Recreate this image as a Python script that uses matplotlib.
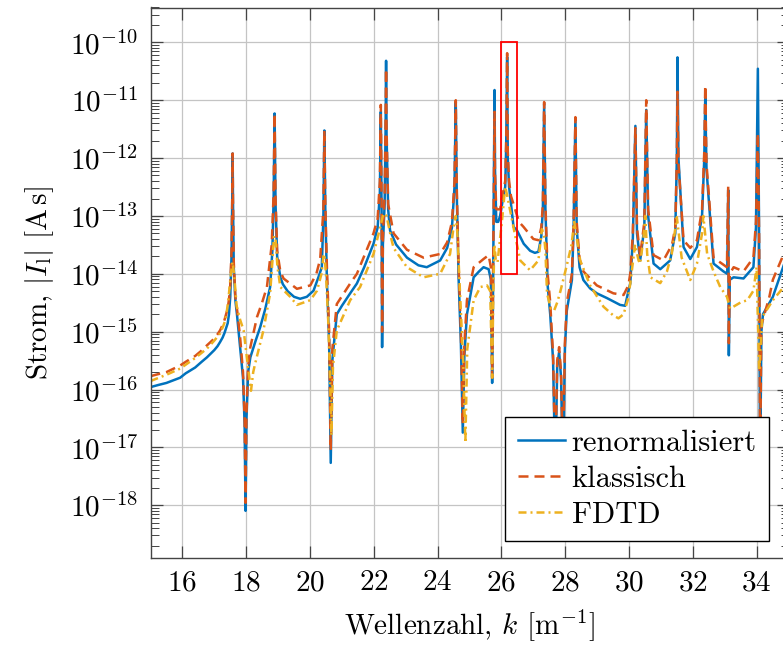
import numpy as np
import matplotlib
matplotlib.use('Agg')
import matplotlib.pyplot as plt
from matplotlib.patches import Rectangle
from matplotlib.ticker import LogLocator, NullFormatter

plt.rcParams['font.family'] = 'serif'
plt.rcParams['font.serif'] = ['cmr10']
plt.rcParams['mathtext.fontset'] = 'cm'
plt.rcParams['axes.formatter.use_mathtext'] = True
plt.rcParams['axes.unicode_minus'] = False
plt.rcParams['font.size'] = 21

# renormalisiert (blue)
k_renorm = [15.0, 15.25, 15.5, 15.93, 16.1, 16.4, 16.6, 16.77, 17.0, 17.1, 17.18, 17.26, 17.32, 17.37, 17.42,
            17.46, 17.5, 17.54, 17.565, 17.575, 17.585,
            17.61, 17.66, 17.71, 17.81, 17.9, 17.95, 17.98, 18.01, 18.06, 18.13, 18.3, 18.44, 18.6, 18.75,
            18.82, 18.86, 18.89, 18.92, 18.97, 19.07, 19.15, 19.3, 19.5, 19.69, 19.9, 20.11, 20.27, 20.37,
            20.42, 20.45,
            20.48, 20.53, 20.6, 20.65, 20.7, 20.84, 21.0, 21.26, 21.47, 21.7, 21.99, 22.12, 22.19, 22.22,
            22.245, 22.26, 22.285, 22.34, 22.37, 22.385, 22.40, 22.45, 22.51, 22.7, 23.04, 23.4, 23.66, 24.08,
            24.3, 24.45, 24.53, 24.57, 24.6, 24.66, 24.73, 24.79, 24.84, 24.92, 25.0, 25.13, 25.3, 25.44,
            25.6, 25.67, 25.71, 25.74, 25.77, 25.785, 25.80, 25.84, 25.9, 25.96, 26.05, 26.12, 26.15, 26.18,
            26.2, 26.24, 26.3, 26.38, 26.49, 26.7, 26.9, 27.05, 27.16, 27.25, 27.3, 27.34, 27.38, 27.45,
            27.53, 27.62, 27.69, 27.75, 27.81,
            27.87, 27.93, 27.99, 28.05, 28.15, 28.21, 28.26, 28.32, 28.36, 28.45, 28.57, 28.78, 28.99, 29.31,
            29.72, 29.88, 29.98, 30.04, 30.12, 30.2, 30.25, 30.35, 30.48, 30.54, 30.6, 30.77, 30.98, 31.29,
            31.45, 31.5, 31.52, 31.55, 31.71, 31.92, 32.13, 32.29, 32.36, 32.39, 32.43, 32.65, 32.96, 33.08,
            33.11, 33.13, 33.16, 33.28, 33.59, 33.9, 33.98, 34.04, 34.08, 34.11, 34.15, 34.2, 34.51, 34.85]
I_renorm = [1.1e-16, 1.2e-16, 1.3e-16, 1.6e-16, 1.9e-16, 2.4e-16, 3.0e-16, 3.6e-16, 4.8e-16, 5.6e-16, 6.6e-16,
            7.9e-16, 9.5e-16, 1.15e-15, 1.4e-15, 2.0e-15, 4.0e-15, 2.0e-14,
            2.5e-13, 1.2e-12, 2.0e-13, 1.3e-14, 3.5e-15, 2.0e-15, 5.4e-16, 1.6e-16, 2.5e-17, 8.0e-19, 3.2e-17,
            2.0e-16, 3.6e-16, 7.1e-16, 1.2e-15, 2.5e-15, 5.9e-15, 2.5e-14, 2.0e-13, 5.9e-12, 1.6e-13, 2.0e-14,
            8.7e-15, 6.6e-15, 5.0e-15, 4.0e-15, 3.7e-15, 4.0e-15, 5.1e-15, 8.9e-15, 1.3e-14, 1.0e-13, 3.0e-12,
            1.3e-13, 7.8e-15,
            6.3e-16, 5.4e-18, 3.2e-16, 2.0e-15, 2.8e-15, 4.6e-15, 6.8e-15, 1.3e-14, 3.3e-14, 6.3e-14, 2.5e-13,
            6.3e-12, 1.0e-13, 5.4e-16, 3.2e-14, 1.6e-13, 3.2e-12, 4.8e-11, 2.5e-12, 1.3e-13, 5.6e-14, 3.2e-14,
            1.9e-14, 1.4e-14, 1.3e-14, 1.7e-14, 2.8e-14, 6.3e-14, 3.2e-13, 9.3e-12, 2.5e-13, 7.9e-15, 6.3e-16,
            1.8e-17, 4.0e-16, 2.0e-15, 3.5e-15, 8.7e-15, 1.1e-14, 1.3e-14, 1.2e-14, 7.9e-15, 1.3e-16, 6.3e-15,
            1.6e-12, 1.5e-11, 6.3e-13, 7.9e-14, 7.9e-14, 1.0e-13, 2.0e-13, 3.2e-13, 1.6e-12, 5.6e-11, 1.0e-12,
            3.2e-13, 1.6e-13, 6.5e-14, 5.6e-14, 3.3e-14, 2.5e-14, 2.3e-14, 2.4e-14, 4.4e-14, 1.3e-13, 8.7e-12,
            1.3e-13, 6.3e-15, 2.0e-15, 3.2e-16, 3.2e-18,
            2.5e-16, 4.5e-16, 1.6e-16, 3.2e-18, 5.0e-16, 2.3e-15, 5.0e-15, 7.8e-15, 5.0e-14, 4.9e-12, 6.3e-14,
            1.3e-14, 7.8e-15, 5.6e-15, 4.6e-15, 3.8e-15, 2.9e-15, 2.8e-15, 5.0e-15, 6.8e-15, 4.0e-14, 3.6e-12,
            5.0e-14, 1.7e-14, 6.3e-14, 6.8e-12, 1.0e-13, 1.5e-14, 1.2e-14, 1.7e-14, 5.0e-14, 1.0e-12, 5.5e-11,
            1.0e-12, 2.9e-14, 1.8e-14, 2.9e-14, 1.0e-13, 1.0e-12, 1.1e-11, 6.3e-13, 1.5e-14, 1.1e-14, 1.0e-14,
            2.8e-13, 3.9e-16, 7.9e-15, 8.7e-15, 8.3e-15, 1.3e-14, 6.3e-14, 3.5e-11, 3.2e-14, 3.2e-18, 1.0e-15,
            2.0e-15, 4.0e-15, 1.4e-14]

# klassisch (orange)
k_klass = [15.0, 15.25, 15.5, 15.93, 16.1, 16.4, 16.6, 16.77, 17.0, 17.1, 17.18, 17.26, 17.32, 17.37, 17.42,
           17.46, 17.5, 17.54, 17.565, 17.575, 17.585,
           17.61, 17.66, 17.71, 17.81, 17.9, 17.95, 17.98, 18.01, 18.06, 18.13, 18.34, 18.5, 18.65, 18.8,
           18.86, 18.89, 18.92, 18.97, 19.07, 19.17, 19.59, 20.01, 20.2, 20.32, 20.42, 20.45, 20.48, 20.53,
           20.6, 20.65, 20.7, 20.84, 21.26, 21.47, 21.99, 22.12, 22.19, 22.22, 22.245, 22.26, 22.285, 22.34,
           22.37, 22.385, 22.40, 22.45, 22.62, 23.04, 23.56, 24.08, 24.3, 24.45, 24.53, 24.57, 24.6, 24.66,
           24.73, 24.79, 24.84, 24.92, 25.13, 25.44, 25.6, 25.67, 25.71, 25.74, 25.77, 25.785, 25.80, 25.84,
           25.96, 26.05, 26.12, 26.15, 26.18, 26.2, 26.24, 26.3, 26.38, 26.55, 26.69, 27.0, 27.16, 27.25,
           27.3, 27.34, 27.38, 27.45,
           27.53, 27.62, 27.69, 27.75, 27.81, 27.87, 27.93, 27.99, 28.05, 28.15, 28.21, 28.26, 28.32, 28.36,
           28.45, 28.57, 28.99, 29.51, 29.83, 29.98, 30.04, 30.12, 30.2, 30.25, 30.35, 30.48, 30.54, 30.6,
           30.77, 31.08, 31.35, 31.45, 31.5, 31.52, 31.55, 31.71, 31.92, 32.13, 32.29, 32.36, 32.39, 32.43,
           32.65, 33.07, 33.11, 33.13, 33.16, 33.28, 33.59, 33.9, 33.98, 34.04, 34.08, 34.11, 34.15, 34.4,
           34.51, 34.85]
I_klass = [1.7e-16, 1.85e-16, 2.0e-16, 2.6e-16, 3.0e-16, 3.8e-16, 4.7e-16, 5.8e-16, 7.6e-16, 9.0e-16, 1.05e-15,
           1.3e-15, 1.6e-15, 2.0e-15, 2.5e-15, 3.6e-15, 6.3e-15, 2.5e-14,
           2.5e-13, 1.2e-12, 2.0e-13, 1.6e-14, 4.0e-15, 2.5e-15, 7.9e-16, 2.0e-16, 3.2e-17, 1.1e-18, 4.0e-17,
           2.5e-16, 5.4e-16, 1.8e-15, 3.2e-15, 5.9e-15, 3.2e-14, 2.5e-13, 5.9e-12, 2.0e-13, 2.5e-14, 1.1e-14,
           8.3e-15, 5.5e-15, 6.3e-15, 1.0e-14, 1.8e-14, 1.3e-13, 3.0e-12, 1.6e-13, 1.3e-14, 1.0e-15, 8.9e-18,
           5.0e-16, 3.0e-15, 6.8e-15, 1.0e-14, 5.0e-14, 8.9e-14, 4.0e-13, 8.3e-12, 1.3e-13, 1.0e-15, 4.0e-14,
           2.5e-13, 5.0e-12, 3.5e-11, 3.2e-12, 1.6e-13, 5.0e-14, 2.6e-14, 1.9e-14, 2.2e-14, 3.5e-14, 7.9e-14,
           4.0e-13, 1.0e-11, 3.2e-13, 1.3e-14, 1.0e-15, 2.5e-17, 6.3e-16, 3.5e-15, 1.3e-14, 1.8e-14, 2.1e-14,
           1.3e-14, 1.6e-16, 1.0e-14, 1.0e-12, 6.3e-12, 5.0e-13, 1.3e-13, 1.3e-13, 2.5e-13, 4.0e-13, 2.0e-12,
           6.5e-11, 1.3e-12, 4.0e-13, 2.2e-13, 1.6e-13, 7.9e-14, 6.5e-14, 4.0e-14, 3.8e-14, 6.3e-14,
           1.6e-13, 9.3e-12, 1.6e-13, 1.0e-14, 3.2e-15,
           4.0e-16, 5.0e-18, 3.2e-16, 5.4e-16, 2.0e-16, 5.0e-18, 6.3e-16, 3.2e-15, 6.3e-15, 1.0e-14, 6.3e-14,
           5.1e-12, 7.9e-14, 1.8e-14, 1.1e-14, 6.3e-15, 4.6e-15, 4.3e-15, 6.3e-15, 1.0e-14, 5.0e-14, 3.3e-12,
           6.3e-14, 2.0e-14, 7.9e-14, 1.0e-11, 1.3e-13, 2.1e-14, 1.7e-14, 3.2e-14, 6.3e-14, 1.0e-12, 1.4e-11,
           7.9e-13, 3.8e-14, 2.8e-14, 3.8e-14, 1.3e-13, 1.3e-12, 1.8e-11, 7.9e-13, 1.9e-14, 1.3e-14, 3.2e-13,
           6.3e-16, 1.0e-14, 1.3e-14, 1.1e-14, 1.9e-14, 7.9e-14, 2.7e-12, 4.0e-14, 5.0e-18, 1.3e-15, 4.0e-15,
           7.9e-15, 2.2e-14]

# FDTD (yellow)
k_fdtd = [15.0, 15.5, 15.93, 16.4, 16.77, 17.0, 17.18, 17.28, 17.35, 17.4, 17.45, 17.52, 17.57, 17.62, 17.7,
          17.81, 17.92, 18.02, 18.15,
          18.22, 18.28, 18.54, 18.75, 18.82, 18.87, 18.92, 18.98, 19.07, 19.38, 19.59, 20.01, 20.22, 20.36,
          20.42, 20.45, 20.5, 20.57, 20.63, 20.67, 20.72, 20.84, 21.26, 21.57, 21.99, 22.2, 22.3, 22.4,
          22.55, 22.62, 23.04, 23.56, 24.08, 24.39, 24.5, 24.57, 24.62, 24.7, 24.8, 24.87, 24.93, 25.13,
          25.34, 25.55, 25.65, 25.71, 25.75, 25.78, 25.83, 25.88, 26.02, 26.12, 26.2, 26.38, 26.59, 26.9,
          27.16, 27.27, 27.34, 27.38, 27.43, 27.55, 27.65, 27.75, 27.85, 28.05, 28.2, 28.28, 28.34,
          28.47, 28.78, 29.2, 29.51, 29.67, 29.83, 29.96, 30.04, 30.19, 30.3, 30.35, 30.45, 30.51, 30.57,
          30.67, 30.98, 31.19, 31.34, 31.5, 31.65, 31.92, 32.13, 32.29, 32.33, 32.45, 32.65, 32.86, 33.07,
          33.17, 33.5, 33.71, 33.9, 34.0, 34.08, 34.18, 34.51, 34.85]
I_fdtd = [1.4e-16, 1.8e-16, 2.3e-16, 3.5e-16, 5.1e-16, 7.0e-16, 9.3e-16, 1.25e-15, 1.6e-15, 2.4e-15, 4.0e-15,
          1.0e-14, 1.6e-14, 1.0e-14, 2.8e-15, 1.6e-15,
          1.05e-15, 3.6e-16, 9.5e-17, 2.0e-16, 2.8e-16, 1.05e-15, 4.6e-15, 1.6e-14, 4.5e-14, 4.0e-14, 1.3e-14,
          5.9e-15, 4.0e-15, 2.9e-15, 3.5e-15, 5.1e-15, 1.0e-14, 2.0e-14, 2.2e-14, 1.0e-14, 1.6e-15, 1.6e-16,
          1.6e-17, 2.5e-16, 1.05e-15, 3.5e-15, 5.9e-15, 2.2e-14, 6.3e-14, 1.1e-13, 1.0e-13, 4.0e-14, 2.8e-14,
          1.3e-14, 8.7e-15, 1.0e-14, 2.2e-14, 6.3e-14, 1.0e-13, 5.0e-14, 5.0e-15, 3.2e-16, 1.2e-17, 5.0e-16,
          3.5e-15, 5.9e-15, 6.3e-15, 5.0e-15, 1.6e-16, 6.3e-15, 3.2e-14, 1.6e-14, 1.6e-14, 8.5e-14, 3.2e-13,
          2.0e-13, 6.3e-14, 1.7e-14, 1.15e-14, 1.7e-14, 5.9e-14, 4.5e-14, 2.5e-14, 4.6e-15, 2.5e-15,
          2.3e-15, 3.2e-15, 5.0e-15, 1.4e-14, 3.2e-14, 7.9e-14, 5.0e-14, 1.7e-14, 6.3e-15, 2.7e-15, 1.9e-15,
          1.7e-15, 2.0e-15, 3.5e-15, 6.8e-15, 3.2e-14, 1.7e-14, 1.5e-14, 4.0e-14, 1.0e-13, 2.2e-14, 8.7e-15,
          6.9e-15, 1.1e-14, 2.2e-14, 9.5e-14, 1.9e-14, 7.8e-15, 1.5e-14, 5.0e-14, 1.0e-13, 2.2e-14, 1.1e-14,
          5.9e-15, 4.0e-15, 2.5e-15, 3.2e-15, 3.5e-15, 5.1e-15, 1.3e-14, 2.1e-16, 1.8e-15, 3.5e-15, 5.9e-15]

labels = ['renormalisiert', 'klassisch', 'FDTD']
colors = ['#0072BD', '#D95319', '#EDB120']
y_ticks = [1e-18, 1e-17, 1e-16, 1e-15, 1e-14, 1e-13, 1e-12, 1e-11, 1e-10]

fig = plt.figure(figsize=(7.83, 6.46), dpi=100)
ax = fig.add_axes([150.5 / 783, 88.5 / 646, 638 / 783, 550 / 646])

ax.plot(k_renorm, I_renorm, color=colors[0], lw=1.8, label=labels[0])
ax.plot(k_klass, I_klass, color=colors[1], lw=1.8, dashes=(4, 2.4), label=labels[1])
ax.plot(k_fdtd, I_fdtd, color=colors[2], lw=1.8, dashes=(3.2, 1.6, 0.8, 1.6), label=labels[2])

# zoom box
ax.add_patch(Rectangle((26.0, 1e-14), 0.5, 1e-10 - 1e-14, fill=False, edgecolor='#ff0000', lw=1.3, zorder=5))

ax.set_yscale('log')
ax.set_xlim(15, 35)
ax.set_ylim(1.25e-19, 4e-10)
ax.set_xticks(np.arange(16, 35, 2))
ax.set_yticks(y_ticks)
ax.yaxis.set_minor_locator(LogLocator(base=10, subs=np.arange(2, 10), numticks=30))
ax.yaxis.set_minor_formatter(NullFormatter())

ax.grid(True, which='major', color='#c4c4c4', lw=0.9)
ax.set_axisbelow(True)
ax.tick_params(which='both', direction='in', top=True, right=True, color='#444444')
ax.tick_params(which='major', length=8.5, width=0.9, pad=9)
ax.tick_params(which='minor', length=5.5, width=0.7)
for s in ax.spines.values():
    s.set_color('#444444')
    s.set_linewidth(1.0)

ax.set_xlabel(r'Wellenzahl, $k$ $[\mathrm{m}^{-1}]$', labelpad=8)
ax.set_ylabel(r'Strom, $|I_\mathrm{l}|$ $[\mathrm{A\,s}]$', labelpad=10)

leg = ax.legend(loc='lower right', bbox_to_anchor=(769 / 783, 1 - 541 / 646), bbox_transform=fig.transFigure,
                borderaxespad=0, fancybox=False, framealpha=1, edgecolor='black', handlelength=1.55,
                handletextpad=0.22, labelspacing=0.28, borderpad=0.4, fontsize=22)
leg.get_frame().set_linewidth(1.0)

fig.savefig('out.png', dpi=100)
